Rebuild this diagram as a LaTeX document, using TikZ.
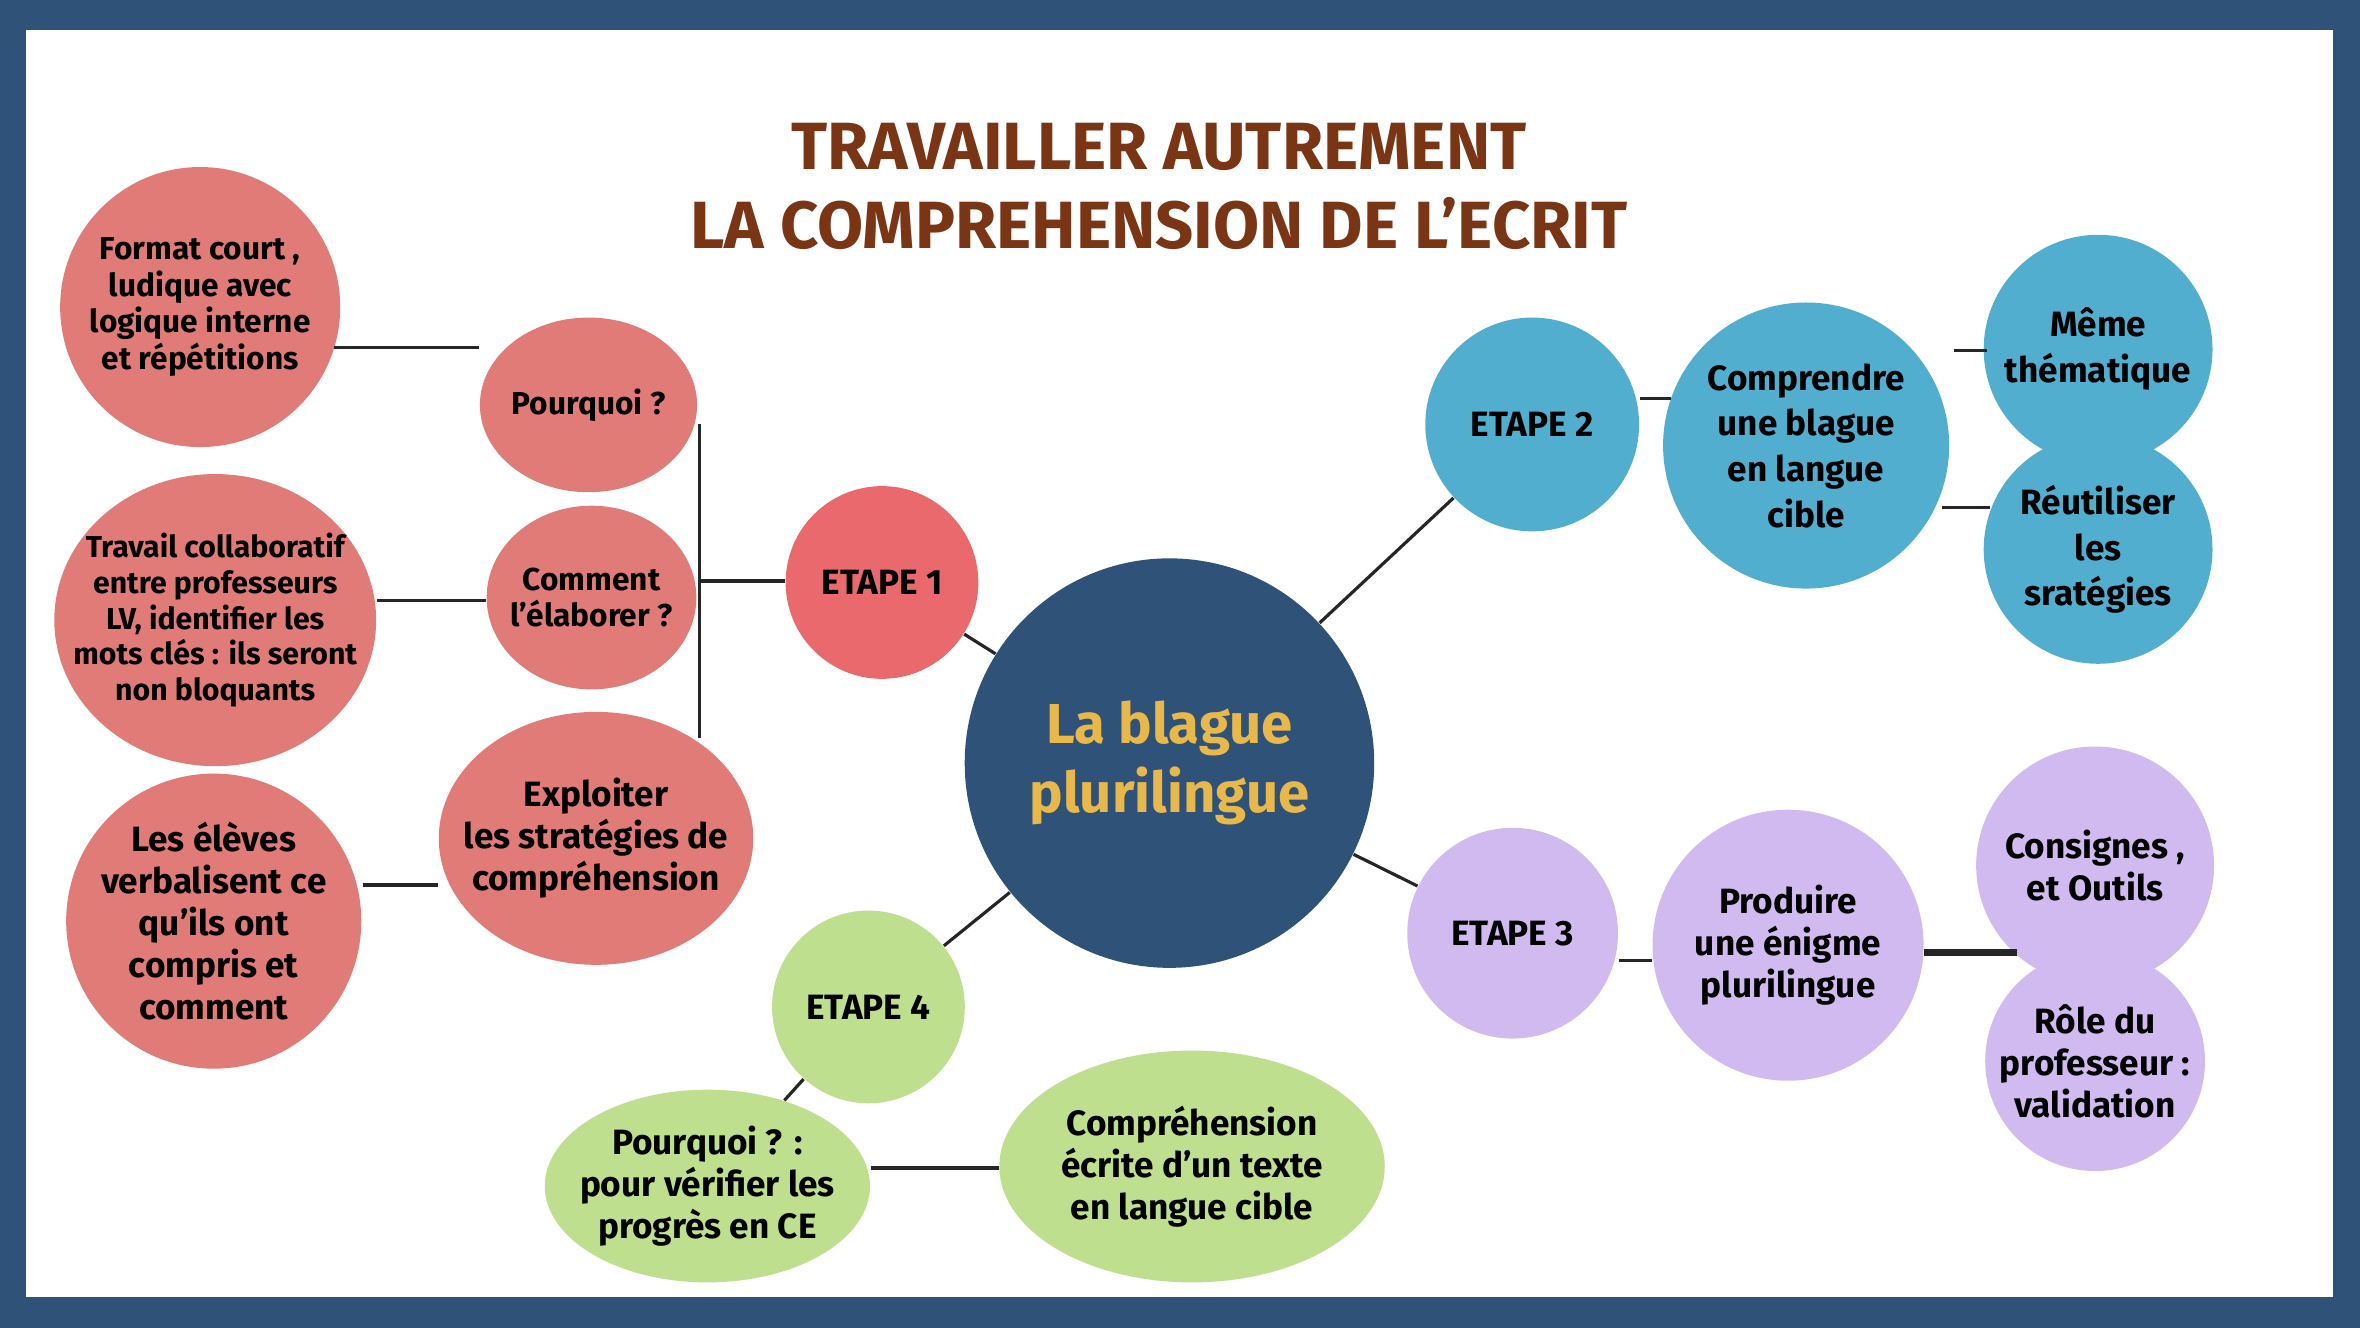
\documentclass[tikz,border=0pt]{standalone}
\usepackage{fontspec}
\setmainfont{Fira Sans}
\usetikzlibrary{positioning,shapes.geometric}
\definecolor{frame}{HTML}{2F5278}
\definecolor{rose}{HTML}{E07B77}
\definecolor{etaperouge}{HTML}{E9696C}
\definecolor{bleu}{HTML}{52AECF}
\definecolor{lavande}{HTML}{D0BAF0}
\definecolor{vert}{HTML}{BDDF8E}
\definecolor{brun}{HTML}{7A3515}
\definecolor{jaune}{HTML}{E8B84A}
\newcommand\px[1]{#1*0.4282pt}
\tikzset{
  bulle/.style={ellipse, inner sep=0pt, align=center, font=\fontsize{9}{10.5}\selectfont\bfseries},
  lien/.style={draw=black!85, line width=0.9pt}
}
\begin{document}
\begin{tikzpicture}[x=0.01505cm,y=-0.01505cm]
\useasboundingbox (0,0) rectangle (1568,882);
\fill[frame] (0,0) rectangle (1568,882);
\fill[white] (17,20) rectangle (1550,862);
% titre
\node[text=brun, align=center, font=\fontsize{19}{22.5}\selectfont\bfseries] (titre) at (770,124) {TRAVAILLER AUTREMENT\\LA COMPREHENSION DE L’ECRIT};
% centre
\node[bulle, fill=frame, minimum size=\px{272}, text=jaune, font=\fontsize{16}{19.5}\selectfont\bfseries] (blague) at (777,507) {La blague\\plurilingue};
% etape 1
\node[bulle, fill=etaperouge, minimum size=\px{128}, font=\fontsize{10}{12}\selectfont\bfseries] (e1) at (586,387) {ETAPE 1};
\node[bulle, fill=rose, minimum size=\px{116}] (pq) at (391,269) {Pourquoi ?};
\node[bulle, fill=rose, minimum width=\px{120}, minimum height=\px{122}, inner sep=-2pt] (cm) at (393,397) {Comment\\l'élaborer ?};
\node[bulle, fill=rose, minimum width=\px{190}, minimum height=\px{168}, inner sep=-6pt, font=\fontsize{10}{12}\selectfont\bfseries] (ex) at (396,557) {Exploiter\\les stratégies de\\compréhension};
\node[bulle, fill=rose, minimum size=\px{186}, inner sep=-6pt] (fc) at (133,204) {Format court ,\\ludique avec\\logique interne\\et répétitions};
\node[bulle, fill=rose, minimum size=\px{194}, inner sep=-8pt, font=\fontsize{8.6}{10.2}\selectfont\bfseries] (tc) at (143,412) {Travail collaboratif\\entre professeurs\\LV, identifier les\\mots clés : ils seront\\non bloquants};
\node[bulle, fill=rose, minimum size=\px{196}, inner sep=-8pt, font=\fontsize{10}{12}\selectfont\bfseries] (le) at (142,612) {Les élèves\\verbalisent ce\\qu'ils ont\\compris et\\comment};
\coordinate (barhaut) at (465,282);
\coordinate (barbas) at (465,490);
\coordinate (barmil) at (465,386);
% etape 2
\node[bulle, fill=bleu, minimum size=\px{142}, font=\fontsize{10}{12}\selectfont\bfseries] (e2) at (1018,282) {ETAPE 2};
\node[bulle, fill=bleu, minimum size=\px{190}, inner sep=-6pt, font=\fontsize{10}{13}\selectfont\bfseries] (cp) at (1200,296) {Comprendre\\une blague\\en langue\\cible};
\node[bulle, fill=bleu, minimum size=\px{152}, inner sep=-6pt, font=\fontsize{10}{13}\selectfont\bfseries] (mt) at (1394,232) {Même\\thématique};
\node[bulle, fill=bleu, minimum size=\px{152}, inner sep=-6pt, font=\fontsize{10}{13}\selectfont\bfseries] (rs) at (1394,365) {Réutiliser\\les\\sratégies};
% etape 3
\node[bulle, fill=lavande, minimum size=\px{140}, font=\fontsize{10}{12}\selectfont\bfseries] (e3) at (1005,620) {ETAPE 3};
\node[bulle, fill=lavande, minimum size=\px{180}, inner sep=-6pt, font=\fontsize{10}{12}\selectfont\bfseries] (pr) at (1188,628) {Produire\\une énigme\\plurilingue};
\node[bulle, fill=lavande, minimum size=\px{158}, inner sep=-6pt, font=\fontsize{10}{12}\selectfont\bfseries] (co) at (1392,575) {Consignes ,\\et Outils};
\node[bulle, fill=lavande, minimum size=\px{146}, inner sep=-6pt, font=\fontsize{10}{12}\selectfont\bfseries] (ro) at (1392,705) {Rôle du\\professeur :\\validation};
% etape 4
\node[bulle, fill=vert, minimum size=\px{128}, font=\fontsize{10}{12}\selectfont\bfseries] (e4) at (577,669) {ETAPE 4};
\node[bulle, fill=vert, minimum width=\px{216}, minimum height=\px{128}, inner sep=-6pt, font=\fontsize{10}{12}\selectfont\bfseries] (pv) at (470,788) {Pourquoi ? :\\pour vérifier les\\progrès en CE};
\node[bulle, fill=vert, minimum width=\px{256}, minimum height=\px{154}, inner sep=-6pt, font=\fontsize{10}{12}\selectfont\bfseries] (ce) at (792,775) {Compréhension\\écrite d'un texte\\en langue cible};
% liens
\draw[lien] (222,231) -- (pq.west |- 0,231);
\draw[lien] (tc.east |- 0,399) -- (cm.west |- 0,399);
\draw[lien] (241,588) -- (ex.west |- 0,588);
\draw[lien] (barhaut) -- (barbas);
\draw[lien] (barmil) -- (e1.west |- barmil);
\draw[lien] (e1) -- (blague);
\draw[lien] (blague) -- (e2);
\draw[lien] (e2.east |- 0,265) -- (1110,265);
\draw[lien] (1298,233) -- (1320,233);
\draw[lien] (1290,337) -- (1322,337);
\draw[lien] (blague) -- (e3);
\draw[lien] (e3.east |- 0,638) -- (pr.west |- 0,638);
\draw[lien, line width=2pt] (1278,633) -- (1340,633);
\draw[lien] (blague) -- (e4);
\draw[lien] (e4) -- (pv);
\draw[lien] (pv.east |- 0,776) -- (ce.west |- 0,776);
\end{tikzpicture}
\end{document}
